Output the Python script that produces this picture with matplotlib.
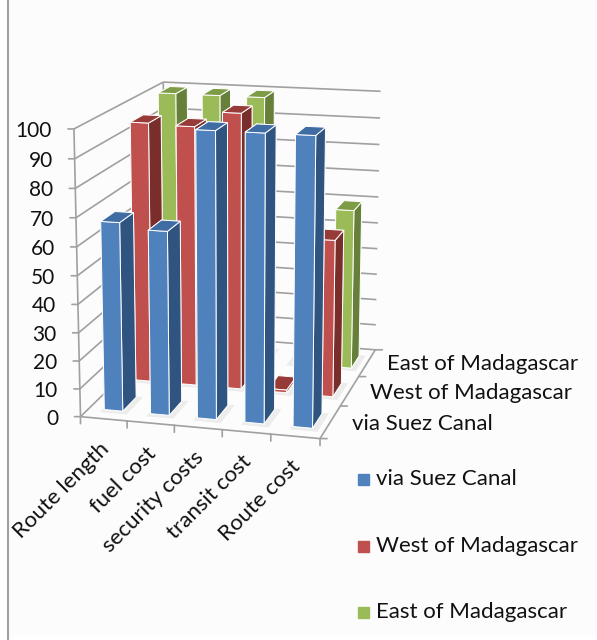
import numpy as np
import matplotlib
matplotlib.use("Agg")
import matplotlib.pyplot as plt
from matplotlib.patches import Rectangle
from mpl_toolkits.mplot3d import proj3d

plt.rcParams['font.family'] = ['Lato', 'DejaVu Sans']

categories = ['Route length', 'fuel cost', 'security costs', 'transit cost', 'Route cost']
series_names = ['via Suez Canal', 'West of Madagascar', 'East of Madagascar']
via_suez = [67, 65, 100, 100, 100]
west_mad = [95, 94.5, 100, 1, 57]
east_mad = [100, 100, 100, 0, 60]
zticks = list(range(0, 101, 10))

all_values = [via_suez, west_mad, east_mad]
# (front, top, side) shades for each series
faces = [('#4f81bd', '#3f6ca3', '#2f5480'),
         ('#c0504d', '#973b39', '#7a2e2c'),
         ('#9bbb59', '#7e9c45', '#66803a')]
legend_colors = ['#4f81bd', '#c0504d', '#9bbb59']
GRID = '#a0a0a0'
FS = 16

fig = plt.figure(figsize=(5.97, 6.40), dpi=100, facecolor='white')
fig.add_artist(Rectangle((8 / 597, 6 / 640), 589 / 597, 634 / 640,
                         transform=fig.transFigure, color='#fcfcfc', zorder=-5))
ax = fig.add_axes([5.7 / 597, 161.7 / 640, 448.8 / 597, 448.8 / 640], projection='3d')
ax.set_proj_type('persp', focal_length=0.741)
ax.view_init(elev=14.38, azim=-75.22)
ax.set_box_aspect((1, 1.195, 1.193))
ax.set_axis_off()
ax.computed_zorder = False

nx, ny = len(categories), len(series_names)
ax.set_xlim(0, nx)
ax.set_ylim(0, ny)
ax.set_zlim(0, 100)
ax.patch.set_visible(False)

def line(xs, ys, zs):
    ax.plot(xs, ys, zs, color=GRID, lw=1.2, zorder=1, solid_capstyle='butt')

def label(x, y, z, text, dx, dy, size=FS, **kw):
    X, Y, _ = proj3d.proj_transform(x, y, z, ax.get_proj())
    ax.annotate(text, (X, Y), xytext=(dx, dy), textcoords='offset pixels',
                fontsize=size, color='#111111', annotation_clip=False, **kw)

# walls
for t in zticks:
    line([0, nx], [ny, ny], [t, t])
    line([0, 0], [0, ny], [t, t])
    line([0, 0], [0, 0], [t, t])
    X, Y, _ = proj3d.proj_transform(0, 0, t, ax.get_proj())
    ax.annotate('', (X, Y), xytext=(-6, 0), textcoords='offset pixels',
                arrowprops=dict(arrowstyle='-', color=GRID, lw=1.2, shrinkA=0, shrinkB=0))
    label(0, 0, t, str(t), -22, -2, size=15, ha='right', va='center')
line([0, 0], [0, 0], [0, 100])
line([0, 0], [ny, ny], [0, 100])
line([0, nx, nx], [0, 0, ny], [0, 0, 0])

# floor ticks
for i in range(nx + 1):
    X, Y, _ = proj3d.proj_transform(i, 0, 0, ax.get_proj())
    ax.annotate('', (X, Y), xytext=(0, -7), textcoords='offset pixels',
                arrowprops=dict(arrowstyle='-', color=GRID, lw=1.2, shrinkA=0, shrinkB=0))
for j in range(ny + 1):
    X, Y, _ = proj3d.proj_transform(nx, j, 0, ax.get_proj())
    ax.annotate('', (X, Y), xytext=(7, 0), textcoords='offset pixels',
                arrowprops=dict(arrowstyle='-', color=GRID, lw=1.2, shrinkA=0, shrinkB=0))

# bars, back row first
wx, wy = 0.40, 0.45
x0, y0 = 0.33, 0.27
for j in range(ny - 1, -1, -1):
    front, top, side = faces[j]
    # bottom, top, -y, +y, -x, +x
    fc = [front, top, front, front, side, side]
    for i in range(nx):
        z = 20 + (ny - j) * 20 + i
        ax.bar3d(i + x0 - 0.03, j + y0 - 0.08, 0, wx + 0.16, wy + 0.1, 0.01,
                 color='#ececec', shade=False, zorder=z)
        if all_values[j][i] > 0:
            ax.bar3d(i + x0, j + y0, 0, wx, wy, all_values[j][i], color=fc,
                     edgecolor='white', linewidth=0.7, shade=False, zorder=z + 1)

# axis labels
for i, name in enumerate(categories):
    label(i + 0.5, 0, 0, name, 2, -27, rotation=45, ha='right', va='center',
          rotation_mode='anchor')
depth_x = [352, 370, 387]
depth_y = [424, 393, 364]
for name, x, y in zip(series_names, depth_x, depth_y):
    fig.text(x / 597, 1 - y / 640, name, ha='left', va='center', fontsize=FS, color='#111111')

# legend
legend_y = [479, 546, 612]
for name, col, y in zip(series_names, legend_colors, legend_y):
    fig.add_artist(Rectangle((358 / 597, 1 - (y + 5.5) / 640), 11 / 597, 11 / 640,
                             transform=fig.transFigure, color=col))
    fig.text(376 / 597, 1 - y / 640, name, ha='left', va='center', fontsize=FS, color='#111111')

# grey rule down the left of the page
fig.add_artist(plt.Line2D([7.5 / 597, 7.5 / 597], [0, 1], color='#a0a0a0', lw=1.5))

fig.savefig('out.png', dpi=100, facecolor=fig.get_facecolor())
